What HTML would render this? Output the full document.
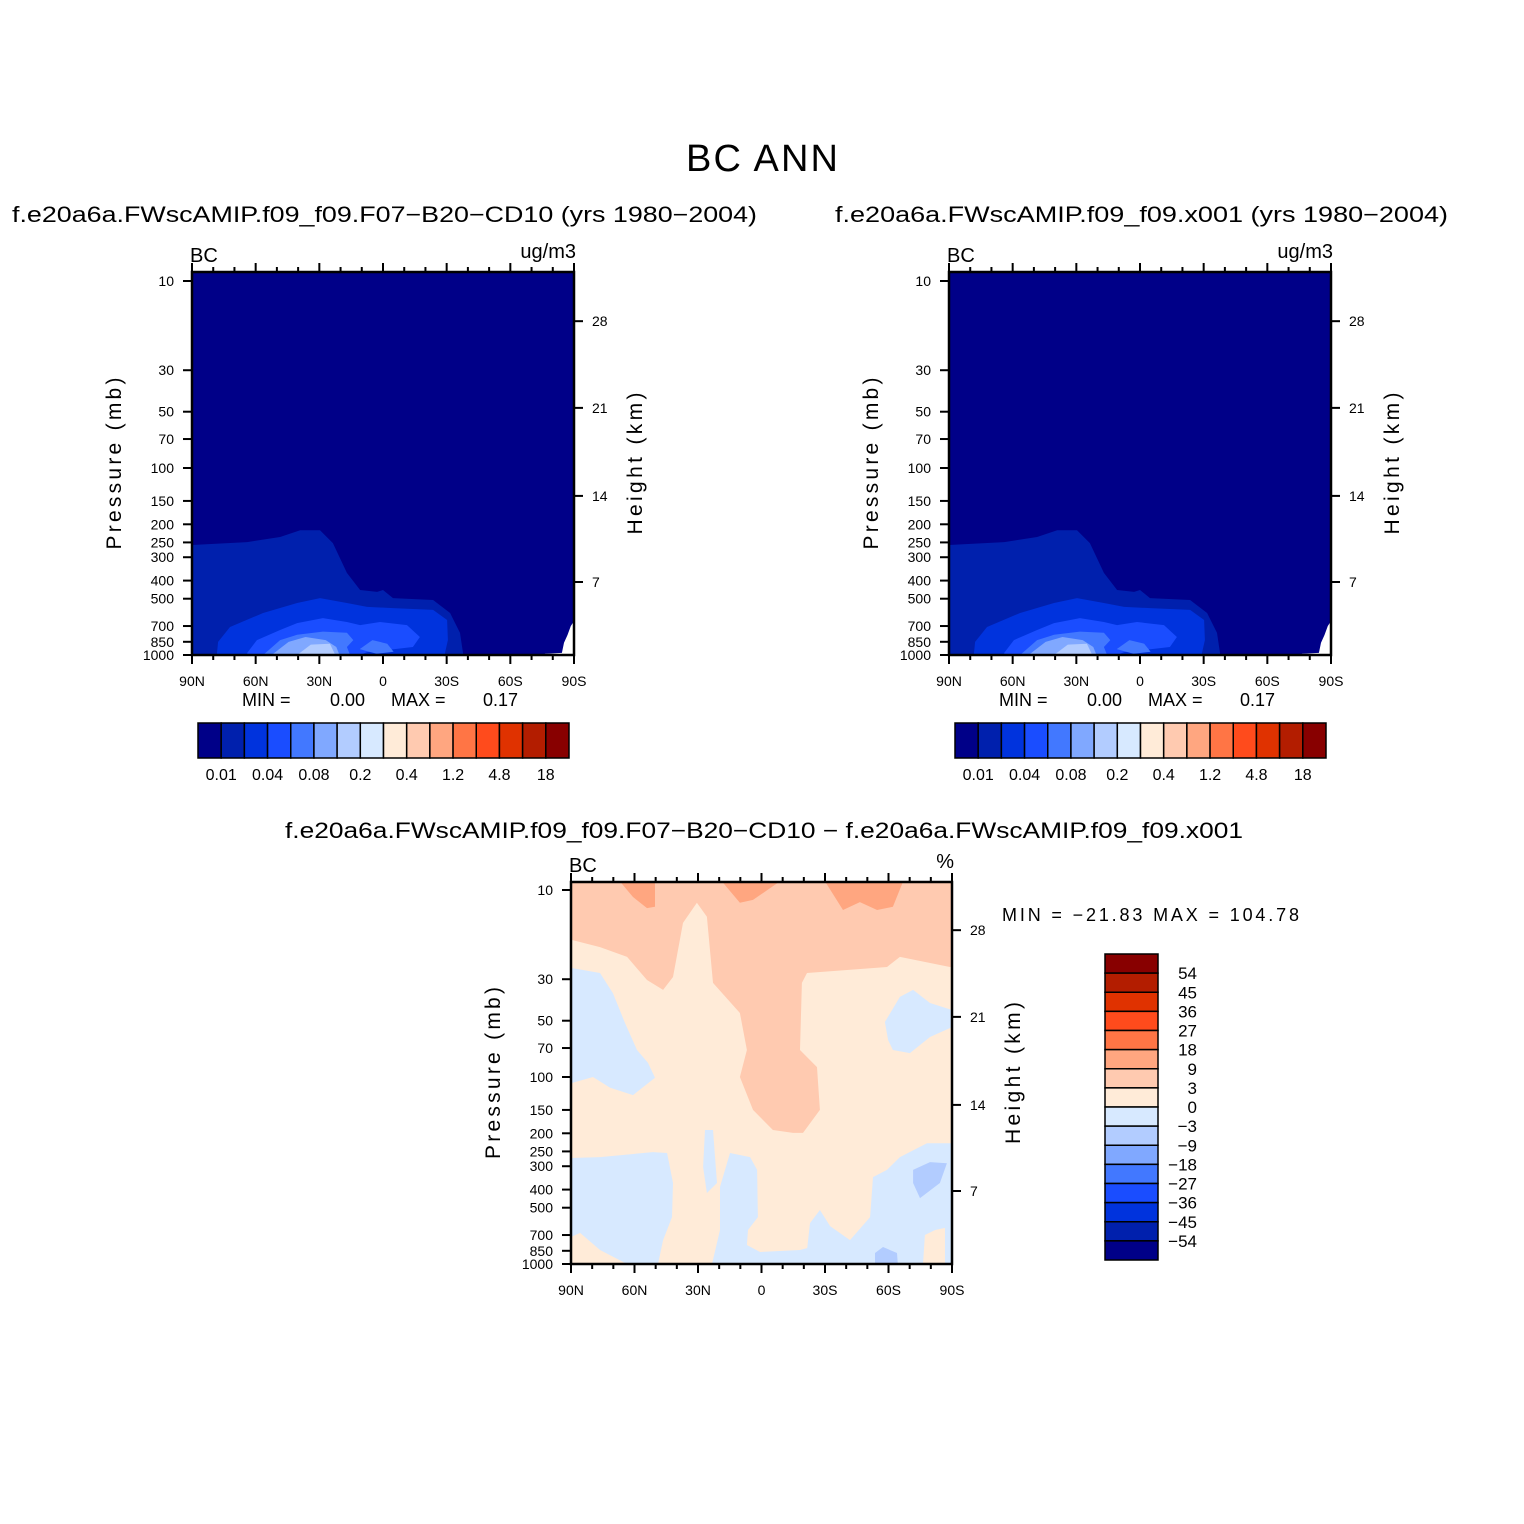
<!DOCTYPE html>
<html><head><meta charset="utf-8"><style>
html,body{margin:0;padding:0;background:#fff;}
svg{display:block;font-family:"Liberation Sans",sans-serif;}
</style></head><body>
<svg id="fig" width="1524" height="1524" viewBox="0 0 1524 1524" xmlns="http://www.w3.org/2000/svg">
<rect width="1524" height="1524" fill="#fff"/>
<text x="686" y="171" font-size="38" textLength="152" lengthAdjust="spacing" fill="#000">BC  ANN</text>
<text x="12" y="222" font-size="22" textLength="745" lengthAdjust="spacingAndGlyphs">f.e20a6a.FWscAMIP.f09_f09.F07−B20−CD10 (yrs 1980−2004)</text>
<text x="835" y="222" font-size="22" textLength="613" lengthAdjust="spacingAndGlyphs">f.e20a6a.FWscAMIP.f09_f09.x001 (yrs 1980−2004)</text>
<text x="285" y="838" font-size="22" textLength="958" lengthAdjust="spacingAndGlyphs">f.e20a6a.FWscAMIP.f09_f09.F07−B20−CD10 − f.e20a6a.FWscAMIP.f09_f09.x001</text>
<g id="plots"></g>
</svg>
<script>
const palette = ["#000088","#0020ad","#0033dd","#1a4dff","#4278ff","#80a8ff","#b2ccff","#d7e9ff","#ffebd8","#ffcab0","#ffa680","#ff7545","#ff4b1c","#e03200","#b31d00","#880000"];
const pressureTicks = [10,30,50,70,100,150,200,250,300,400,500,700,850,1000];
const latTicks = [90,60,30,0,-30,-60,-90];
const latTickLabels = ["90N","60N","30N","0","30S","60S","90S"];
const heightTicks = [28,21,14,7];
const heightTickPressure = [16.4,47.7,141,407];
const topBarLabels = ["0.01","0.04","0.08","0.2","0.4","1.2","4.8","18"];
const diffBarLabels = ["54","45","36","27","18","9","3","0","−3","−9","−18","−27","−36","−45","−54"];
const topMin = "0.00", topMax = "0.17", diffMin = "−21.83", diffMax = "104.78";

const bcLevel1 = [[90,258],[64,249],[48.5,234],[39,215],[29.7,215],[23.6,252],[17,364],[10.8,449],[2.8,460],[0,449],[-4.7,496],[-23.6,508],[-31.6,596],[-36.3,762],[-37.7,975],[-37.7,1000],[90,1000]];
const bcLevel2 = [[78.2,1000],[78.2,975],[77.7,851],[72.1,708],[56.5,596],[40.5,527],[29.7,496],[17,527],[7.5,553],[-4.7,561],[-23.6,574],[-30.2,650],[-30.6,832],[-29.2,975],[-29.2,1000]];
const bcLevel3 = [[64,1000],[64,975],[59.4,832],[48.5,735],[40.5,675],[28.3,635],[17,666],[10.8,692],[1.4,666],[-11.3,692],[-17.4,801],[-14.1,906],[-1.9,940],[7.5,965],[10.8,1000]];
const bcLevel4 = [[56.5,1000],[48.5,832],[40.5,780],[28.3,750],[17,760],[14,832],[17,906],[15.5,1000]];
const bcLevel4b = [[11,930],[5,832],[-2,870],[-5,960],[3,985]];
const bcLevel5 = [[52.5,1000],[44.5,851],[36.5,801],[27,832],[22,906],[20.5,1000]];
const bcLevel6 = [[40.5,1000],[34,880],[25,870],[22.5,1000]];
const bcMissing = [[-76.3,1000],[-76.3,985],[-84.3,975],[-85.3,860],[-87,780],[-88.5,700],[-90,660],[-90,1000]];

const diffLevel9 = [[90,9],[89.5,18.5],[76.3,20.2],[63.5,22.8],[54.1,30.3],[46.5,34.2],[41.8,29.2],[37.1,15],[30.5,11.7],[25.8,13.9],[22.9,31.4],[10.2,45.5],[6.9,71.7],[10.2,100],[4,150],[-5.4,192],[-14.9,199],[-19.6,199],[-27.6,150],[-26.2,88.5],[-18.2,71.7],[-19.1,31.4],[-21.5,27.8],[-59.3,25.8],[-65.4,22.8],[-89,25.8],[-90,25.8],[-90,9]];
const diffLevel10a = [[66.9,9],[60.7,10.9],[54.1,12.5],[50.3,12.3],[50.3,9]];
const diffLevel10b = [[18.7,9],[10.2,11.7],[4,11.3],[-8.7,9]];
const diffLevel10c = [[-30,9],[-38.5,12.8],[-46.5,11.6],[-54.6,12.8],[-62.1,12.3],[-66.9,9]];
const diffLevel7a = [[90,26.1],[76.3,27.8],[70.2,35.6],[64.5,51.4],[58.8,71.7],[53.6,84.1],[50.3,101],[60.7,125],[71.6,114],[79.6,100],[90,108]];
const diffLevel7b = [[90,271],[76.3,268],[51.3,252],[44.6,255],[41.8,369],[42.3,561],[46.5,745],[48.9,1000],[63.5,1000],[76.3,842],[85.7,682],[90,717]];
const diffLevel7c = [[26.7,192],[22.9,192],[21,369],[25.8,417],[27.6,303]];
const diffLevel7d = [[19.6,387],[14.9,255],[5.4,268],[2.1,314],[1.7,561],[6.4,658],[6.9,791],[0.7,863],[-18.2,842],[-21.9,820],[-21.9,1000],[23.4,1000],[19.6,658]];
const diffLevel7e = [[-90,226],[-78.2,226],[-65.4,268],[-59.3,314],[-52.7,343],[-51.3,561],[-41.8,745],[-32.4,627],[-27.6,514],[-22.9,604],[-21.5,842],[-18.2,1000],[-90,1000]];
const diffLevel7f = [[-58.3,50.8],[-65.4,37.3],[-71.6,34.2],[-79.6,40.2],[-90,43.8],[-90,54.1],[-79.6,61.1],[-70.1,74.5],[-62.1,71.7],[-59.8,63.4]];
const diffLevel8patch = [[-76.3,1000],[-77.2,700],[-82,658],[-86.7,641],[-86.7,1000]];
const diffLevel6a = [[-71.6,314],[-79.6,285],[-87.6,289],[-84.3,369],[-74.9,444],[-71.6,369]];
const diffLevel6b = [[-53.6,873],[-57.4,811],[-64,873],[-64.4,1000],[-53.6,1000]];

const SVGNS = "http://www.w3.org/2000/svg";
const root = document.getElementById('plots');
function mk(tag, attrs, parent){const e=document.createElementNS(SVGNS,tag);for(const k in attrs)e.setAttribute(k,attrs[k]);(parent||root).appendChild(e);return e;}

function panel(P){
  const xs = lat => P.x0 + (90-lat)/180*(P.x1-P.x0);
  const ys = p => P.y10 + (Math.log10(p)-1)*(P.y1000-P.y10)/2;
  const g = mk('g',{});
  
  
  const cid = 'clip-'+P.name;
  const cp = mk('clipPath',{id:cid},g);
  mk('rect',{x:P.x0,y:P.top,width:P.x1-P.x0,height:P.y1000-P.top},cp);
  const area = mk('g',{'clip-path':'url(#'+cid+')'},g);
  const bg = mk('rect',{x:P.x0,y:P.top,width:P.x1-P.x0,height:P.y1000-P.top,fill:palette[P.bg]},area);
  
  
  P.regions.forEach(([pts,col,nm])=>{
    const poly = mk('polygon',{points:pts.map(q=>xs(q[0]).toFixed(1)+','+ys(q[1]).toFixed(1)).join(' '),fill:col,'stroke-linejoin':'round'},area);
    
    
  });
  const fr = mk('rect',{x:P.x0,y:P.top,width:P.x1-P.x0,height:P.y1000-P.top,fill:'none',stroke:'#000','stroke-width':2.5},g);
  
  
  for(let lat=90;lat>=-90;lat-=10){
    const x=xs(lat), major=(lat%30===0), L=major?9:5;
    mk('line',{x1:x,x2:x,y1:P.y1000,y2:P.y1000+L,stroke:'#000','stroke-width':2},g);
    mk('line',{x1:x,x2:x,y1:P.top,y2:P.top-L,stroke:'#000','stroke-width':2},g);
  }
  latTicks.forEach((lat,i)=>{
    const t=mk('text',{x:xs(lat),y:P.y1000+31,'font-size':14,'text-anchor':'middle'},g);
    t.textContent=latTickLabels[i];
    
    
  });
  pressureTicks.forEach(p=>{
    const y=ys(p);
    mk('line',{x1:P.x0-9,x2:P.x0,y1:y,y2:y,stroke:'#000','stroke-width':2},g);
    const t=mk('text',{x:P.x0-18,y:y+5,'font-size':14,'text-anchor':'end'},g);
    t.textContent=p;
    
    
  });
  heightTicks.forEach((h,i)=>{
    const y=ys(heightTickPressure[i]);
    mk('line',{x1:P.x1,x2:P.x1+9,y1:y,y2:y,stroke:'#000','stroke-width':2},g);
    const t=mk('text',{x:P.x1+18,y:y+5,'font-size':14},g);
    t.textContent=h;
    
    
  });
  const cy=(P.top+P.y1000)/2;
  const yl=mk('text',{x:0,y:0,'font-size':21,'text-anchor':'middle',textLength:172,lengthAdjust:'spacing',transform:`translate(${P.x0-71},${cy}) rotate(-90)`},g);
  yl.textContent='Pressure (mb)';
  
  
  const yr=mk('text',{x:0,y:0,'font-size':21,'text-anchor':'middle',textLength:142,lengthAdjust:'spacing',transform:`translate(${P.x1+68},${cy}) rotate(-90)`},g);
  yr.textContent='Height (km)';
  
  
  const lt=mk('text',{x:P.x0-2,y:P.top-10,'font-size':20},g);
  lt.textContent='BC';
  
  
  const ut=mk('text',{x:P.x1+2,y:P.top-14,'font-size':20,'text-anchor':'end'},g);
  ut.textContent=P.units;
  
  
}

const bcRegions = [[bcLevel1,palette[1],'contour-level-1'],[bcLevel2,palette[2],'contour-level-2'],[bcLevel3,palette[3],'contour-level-3'],[bcLevel4,palette[4],'contour-level-4'],[bcLevel4b,palette[4],'contour-level-4b'],[bcLevel5,palette[5],'contour-level-5'],[bcLevel6,palette[6],'contour-level-6'],[bcMissing,'#fff','missing-data']];
panel({name:'left-panel',x0:192,x1:574,top:272,y10:281,y1000:655,bg:0,units:'ug/m3',regions:bcRegions});
panel({name:'right-panel',x0:949,x1:1331,top:272,y10:281,y1000:655,bg:0,units:'ug/m3',regions:bcRegions});
panel({name:'diff-panel',x0:571,x1:952,top:882,y10:890,y1000:1264,bg:8,units:'%',regions:[
  [diffLevel9,palette[9],'diff-level-3-9'],[diffLevel10a,palette[10],'diff-level-9-18-a'],[diffLevel10b,palette[10],'diff-level-9-18-b'],[diffLevel10c,palette[10],'diff-level-9-18-c'],
  [diffLevel7a,palette[7],'diff-neg-a'],[diffLevel7b,palette[7],'diff-neg-b'],[diffLevel7c,palette[7],'diff-neg-c'],[diffLevel7d,palette[7],'diff-neg-d'],[diffLevel7e,palette[7],'diff-neg-e'],[diffLevel7f,palette[7],'diff-neg-f'],
  [diffLevel8patch,palette[8],'diff-pos-patch'],[diffLevel6a,palette[6],'diff-neg3-a'],[diffLevel6b,palette[6],'diff-neg3-b']]});

function txt(x,y,s,size,anchor,name){const t=mk('text',{x:x,y:y,'font-size':size,'text-anchor':anchor||'start'});t.textContent=s;return t;}
[0,757].forEach((dx,k)=>{
  txt(242+dx,706,'MIN  =',18,'start',k?'right-min-label':'left-min-label');
  txt(330+dx,706,topMin,18,'start',k?'right-min-value':'left-min-value');
  txt(391+dx,706,'MAX  =',18,'start',k?'right-max-label':'left-max-label');
  txt(483+dx,706,topMax,18,'start',k?'right-max-value':'left-max-value');
  const bw=(569-198)/16;
  for(let i=0;i<16;i++){
    const r=mk('rect',{x:198+dx+i*bw,y:723,width:bw,height:35,fill:palette[i],stroke:'#000','stroke-width':1.5});
    
    
  }
  topBarLabels.forEach((s,i)=>txt(198+dx+(2*i+1)*bw,780,s,16,'middle','colorbar-label'));
});
const mm = txt(1002,921,'MIN  =  '+diffMin+'   MAX  =  '+diffMax,18,'start','diff-min-max');
mm.setAttribute('textLength','297');
mm.setAttribute('lengthAdjust','spacing');
const bh=(1260-954)/16;
for(let i=0;i<16;i++){
  const r=mk('rect',{x:1105,y:954+i*bh,width:53,height:bh,fill:palette[15-i],stroke:'#000','stroke-width':1.5});
  
  
}
diffBarLabels.forEach((s,i)=>txt(1197,954+(i+1)*bh+6,s,17,'end','diff-colorbar-label'));
</script>
</body></html>
